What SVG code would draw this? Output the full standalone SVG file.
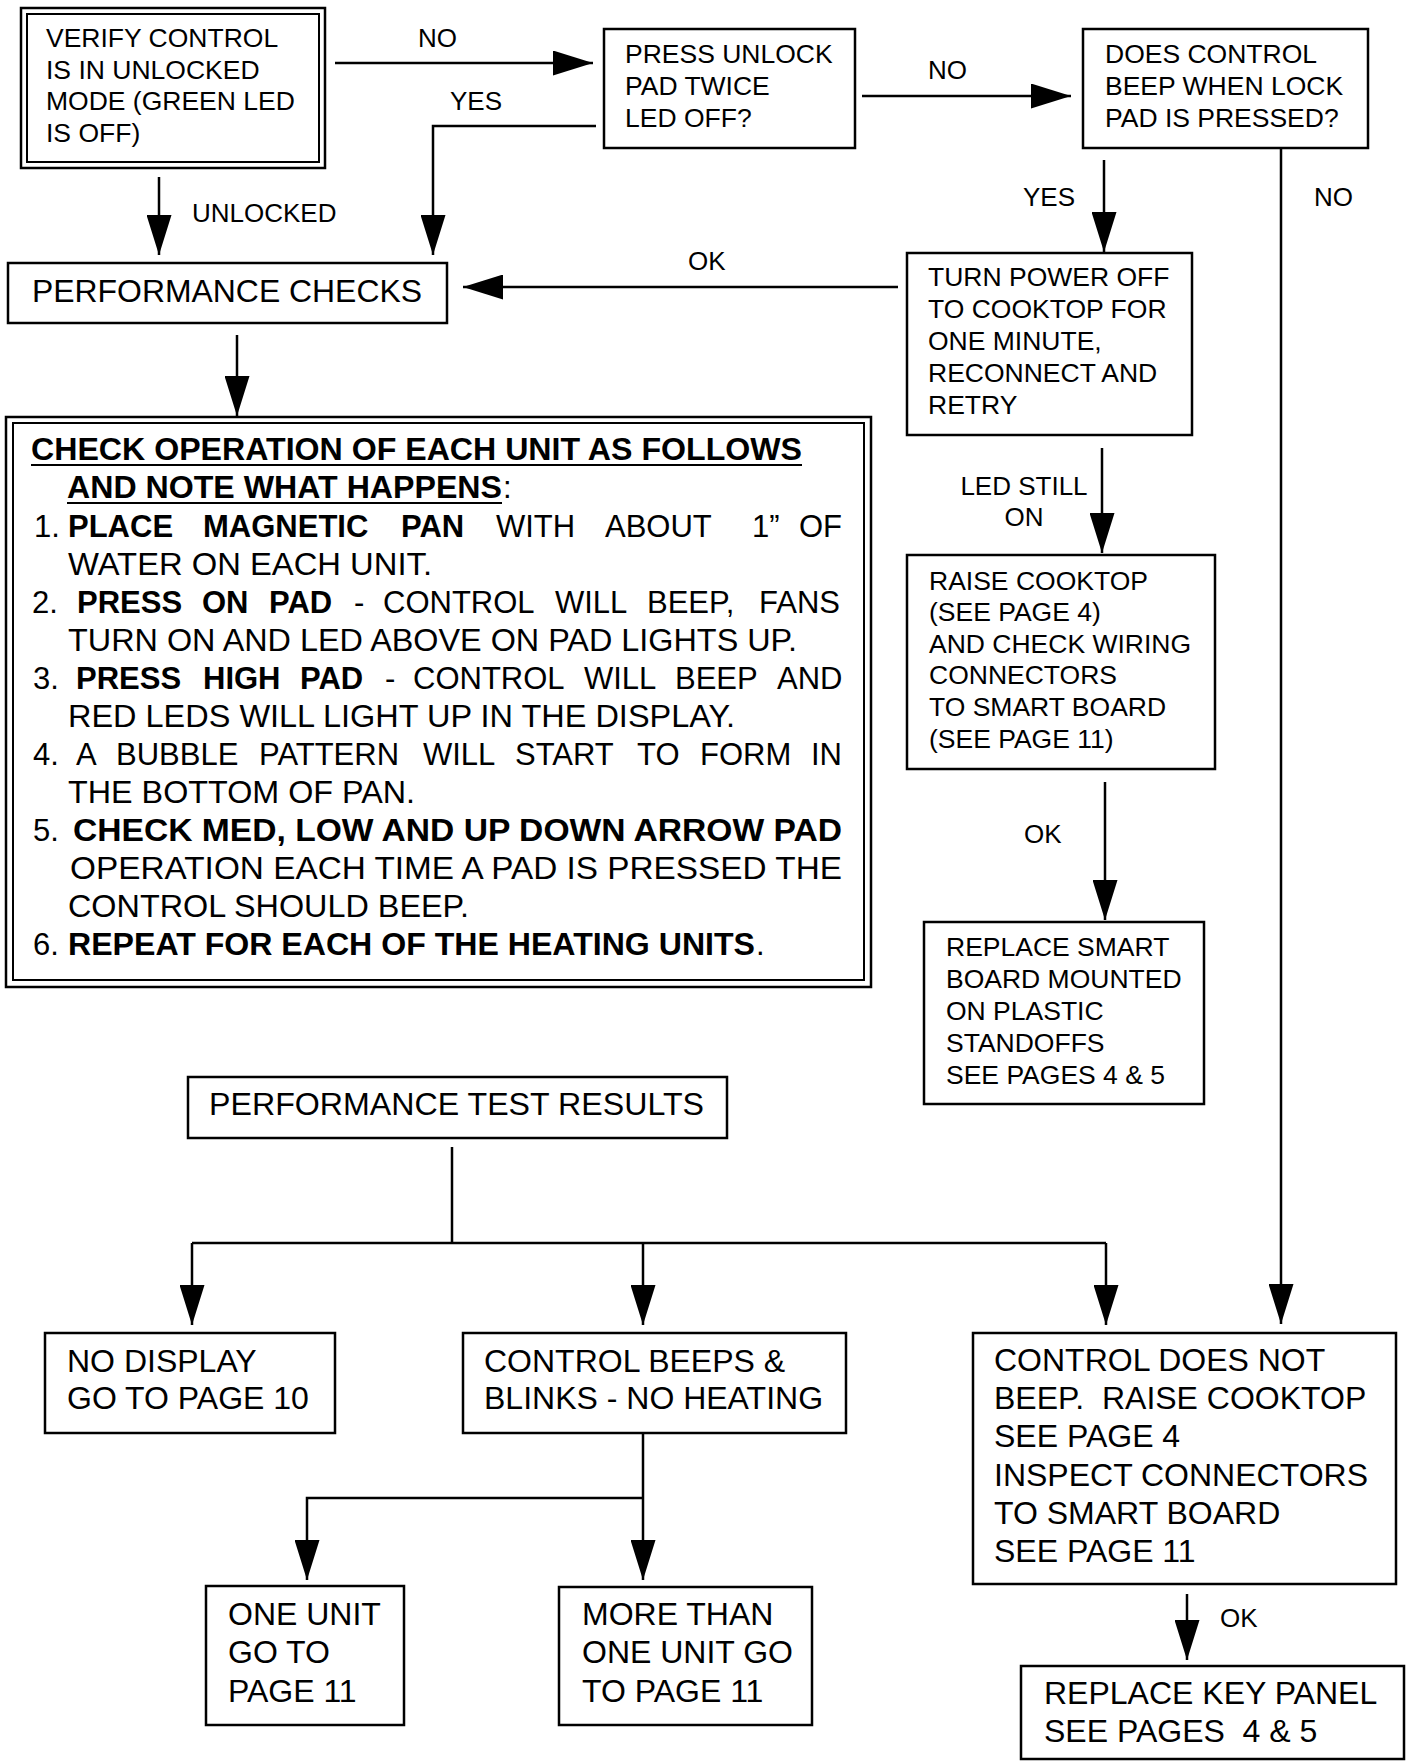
<svg xmlns="http://www.w3.org/2000/svg" width="1408" height="1761" viewBox="0 0 1408 1761">
<defs>
<style>
.box{fill:#fff;stroke:#000;stroke-width:2.5}
.thin{fill:none;stroke:#000;stroke-width:2}
text{font-family:"Liberation Sans",Arial,sans-serif;fill:#000}
.s{font-size:26.5px}
.m{font-size:32px}
.b{font-size:31px}
.bd{font-weight:bold}
.lbl{font-size:26px}
.pre{white-space:pre}
.ln{fill:none;stroke:#000;stroke-width:2.5}
.ul{fill:none;stroke:#000;stroke-width:2.2}
</style>
<marker id="ah" markerUnits="userSpaceOnUse" markerWidth="40" markerHeight="25" refX="40" refY="12.5" orient="auto">
<path d="M0,0 L40,12.5 L0,25 Z" fill="#000"/>
</marker>
</defs>
<rect x="0" y="0" width="1408" height="1761" fill="#fff"/>

<g id="connectors">
<path class="ln" d="M335,63 H593" marker-end="url(#ah)"/>
<path class="ln" d="M596,126 H433 V255" marker-end="url(#ah)"/>
<path class="ln" d="M862,96 H1071" marker-end="url(#ah)"/>
<path class="ln" d="M159,177 V255" marker-end="url(#ah)"/>
<path class="ln" d="M1104,160 V252" marker-end="url(#ah)"/>
<path class="ln" d="M1281,148 V1324" marker-end="url(#ah)"/>
<path class="ln" d="M898,287 H463" marker-end="url(#ah)"/>
<path class="ln" d="M237,335 V416" marker-end="url(#ah)"/>
<path class="ln" d="M1102,448 V553" marker-end="url(#ah)"/>
<path class="ln" d="M1105,782 V920" marker-end="url(#ah)"/>
<path class="ln" d="M452,1147 V1243"/>
<path class="ln" d="M192,1243 H1106"/>
<path class="ln" d="M192,1243 V1325" marker-end="url(#ah)"/>
<path class="ln" d="M643,1243 V1325" marker-end="url(#ah)"/>
<path class="ln" d="M1106,1243 V1325" marker-end="url(#ah)"/>
<path class="ln" d="M643,1433 V1580" marker-end="url(#ah)"/>
<path class="ln" d="M643,1498 H307 V1580" marker-end="url(#ah)"/>
<path class="ln" d="M1187,1594 V1660" marker-end="url(#ah)"/>
<text class="lbl" x="418" y="47">NO</text>
<text class="lbl" x="450" y="110">YES</text>
<text class="lbl" x="928" y="79">NO</text>
<text class="lbl" x="192" y="222">UNLOCKED</text>
<text class="lbl" x="1023" y="206">YES</text>
<text class="lbl" x="1314" y="206">NO</text>
<text class="lbl" x="688" y="270">OK</text>
<text class="lbl" x="1024" y="495" text-anchor="middle">LED STILL</text>
<text class="lbl" x="1024" y="526" text-anchor="middle">ON</text>
<text class="lbl" x="1024" y="843">OK</text>
<text class="lbl" x="1220" y="1627">OK</text>
</g>

<g id="n_verify">
<rect class="box" x="21" y="8" width="304" height="160"/>
<rect class="thin" x="27" y="14" width="292" height="148"/>
<text class="s" x="46" y="47">VERIFY CONTROL</text>
<text class="s" x="46" y="79">IS IN UNLOCKED</text>
<text class="s" x="46" y="110">MODE (GREEN LED</text>
<text class="s" x="46" y="142">IS OFF)</text>
</g>

<g id="n_press">
<rect class="box" x="604" y="29" width="251" height="119"/>
<text class="s" x="625" y="63">PRESS UNLOCK</text>
<text class="s" x="625" y="95">PAD TWICE</text>
<text class="s" x="625" y="127">LED OFF?</text>
</g>

<g id="n_does">
<rect class="box" x="1083" y="29" width="285" height="119"/>
<text class="s" x="1105" y="63">DOES CONTROL</text>
<text class="s" x="1105" y="95">BEEP WHEN LOCK</text>
<text class="s" x="1105" y="127">PAD IS PRESSED?</text>
</g>

<g id="n_perf">
<rect class="box" x="8" y="263" width="439" height="60"/>
<text x="32" y="302" font-size="32" textLength="390" lengthAdjust="spacingAndGlyphs">PERFORMANCE CHECKS</text>
</g>

<g id="n_turn">
<rect class="box" x="907" y="253" width="285" height="182"/>
<text class="s" x="928" y="286">TURN POWER OFF</text>
<text class="s" x="928" y="318">TO COOKTOP FOR</text>
<text class="s" x="928" y="350">ONE MINUTE,</text>
<text class="s" x="928" y="382">RECONNECT AND</text>
<text class="s" x="928" y="414">RETRY</text>
</g>

<g id="n_check">
<rect class="box" x="6" y="417" width="865" height="570"/>
<rect class="thin" x="13" y="423" width="851" height="557"/>
<text class="b bd" x="31" y="460" textLength="771" lengthAdjust="spacingAndGlyphs">CHECK OPERATION OF EACH UNIT AS FOLLOWS</text>
<path class="ul" d="M31,465 H802"/>
<text class="b bd" x="67" y="498" textLength="435" lengthAdjust="spacingAndGlyphs">AND NOTE WHAT HAPPENS</text>
<text class="b" x="503" y="498">:</text>
<path class="ul" d="M67,503 H502"/>
<text class="b" x="34" y="537">1.</text>
<text class="b bd" x="68" y="537">PLACE</text>
<text class="b bd" x="203" y="537">MAGNETIC</text>
<text class="b bd" x="401" y="537">PAN</text>
<text class="b" x="496" y="537">WITH</text>
<text class="b" x="605" y="537">ABOUT</text>
<text class="b" x="752" y="537">1”</text>
<text class="b" x="799" y="537">OF</text>
<text class="b" x="68" y="575" textLength="364" lengthAdjust="spacingAndGlyphs">WATER ON EACH UNIT.</text>
<text class="b" x="32" y="613">2.</text>
<text class="b bd" x="77" y="613">PRESS</text>
<text class="b bd" x="202" y="613">ON</text>
<text class="b bd" x="269" y="613">PAD</text>
<text class="b" x="354" y="613">-</text>
<text class="b" x="383" y="613">CONTROL</text>
<text class="b" x="555" y="613">WILL</text>
<text class="b" x="647" y="613">BEEP,</text>
<text class="b" x="759" y="613">FANS</text>
<text class="b" x="68" y="651" textLength="729" lengthAdjust="spacingAndGlyphs">TURN ON AND LED ABOVE ON PAD LIGHTS UP.</text>
<text class="b" x="33" y="689">3.</text>
<text class="b bd" x="76" y="689">PRESS</text>
<text class="b bd" x="203" y="689">HIGH</text>
<text class="b bd" x="300" y="689">PAD</text>
<text class="b" x="385" y="689">-</text>
<text class="b" x="413" y="689">CONTROL</text>
<text class="b" x="584" y="689">WILL</text>
<text class="b" x="675" y="689">BEEP</text>
<text class="b" x="777" y="689">AND</text>
<text class="b" x="68" y="727" textLength="667" lengthAdjust="spacingAndGlyphs">RED LEDS WILL LIGHT UP IN THE DISPLAY.</text>
<text class="b" x="33" y="765">4.</text>
<text class="b" x="76" y="765">A</text>
<text class="b" x="116" y="765">BUBBLE</text>
<text class="b" x="259" y="765">PATTERN</text>
<text class="b" x="423" y="765">WILL</text>
<text class="b" x="515" y="765">START</text>
<text class="b" x="637" y="765">TO</text>
<text class="b" x="700" y="765">FORM</text>
<text class="b" x="811" y="765">IN</text>
<text class="b" x="68" y="803" textLength="347" lengthAdjust="spacingAndGlyphs">THE BOTTOM OF PAN.</text>
<text class="b" x="33" y="841">5.</text>
<text class="b bd" x="73" y="841" textLength="769" lengthAdjust="spacingAndGlyphs">CHECK MED, LOW AND UP DOWN ARROW PAD</text>
<text class="b" x="70" y="879" textLength="772" lengthAdjust="spacingAndGlyphs">OPERATION EACH TIME A PAD IS PRESSED THE</text>
<text class="b" x="68" y="917" textLength="401" lengthAdjust="spacingAndGlyphs">CONTROL SHOULD BEEP.</text>
<text class="b" x="33" y="955">6.</text>
<text class="b bd" x="68" y="955" textLength="687" lengthAdjust="spacingAndGlyphs">REPEAT FOR EACH OF THE HEATING UNITS</text>
<text class="b" x="756" y="955">.</text>
</g>

<g id="n_raise">
<rect class="box" x="907" y="555" width="308" height="214"/>
<text class="s" x="929" y="590">RAISE COOKTOP</text>
<text class="s" x="929" y="621">(SEE PAGE 4)</text>
<text class="s" x="929" y="653">AND CHECK WIRING</text>
<text class="s" x="929" y="684">CONNECTORS</text>
<text class="s" x="929" y="716">TO SMART BOARD</text>
<text class="s" x="929" y="748">(SEE PAGE 11)</text>
</g>

<g id="n_replace_smart">
<rect class="box" x="924" y="922" width="280" height="182"/>
<text class="s" x="946" y="956">REPLACE SMART</text>
<text class="s" x="946" y="988">BOARD MOUNTED</text>
<text class="s" x="946" y="1020">ON PLASTIC</text>
<text class="s" x="946" y="1052">STANDOFFS</text>
<text class="s" x="946" y="1084">SEE PAGES 4 &amp; 5</text>
</g>

<g id="n_ptr">
<rect class="box" x="188" y="1077" width="539" height="61"/>
<text x="209" y="1115" font-size="31.5" textLength="495" lengthAdjust="spacingAndGlyphs">PERFORMANCE TEST RESULTS</text>
</g>

<g id="n_nodisplay">
<rect class="box" x="45" y="1333" width="290" height="100"/>
<text class="m" x="67" y="1372">NO DISPLAY</text>
<text class="m" x="67" y="1409">GO TO PAGE 10</text>
</g>

<g id="n_beeps">
<rect class="box" x="463" y="1333" width="383" height="100"/>
<text class="m" x="484" y="1372">CONTROL BEEPS &amp;</text>
<text class="m" x="484" y="1409">BLINKS - NO HEATING</text>
</g>

<g id="n_oneunit">
<rect class="box" x="206" y="1586" width="198" height="139"/>
<text class="m" x="228" y="1625">ONE UNIT</text>
<text class="m" x="228" y="1663">GO TO</text>
<text class="m" x="228" y="1702">PAGE 11</text>
</g>

<g id="n_morethan">
<rect class="box" x="559" y="1587" width="253" height="138"/>
<text class="m" x="582" y="1625">MORE THAN</text>
<text class="m" x="582" y="1663">ONE UNIT GO</text>
<text class="m" x="582" y="1702">TO PAGE 11</text>
</g>

<g id="n_doesnot">
<rect class="box" x="973" y="1333" width="423" height="251"/>
<text class="m" x="994" y="1371">CONTROL DOES NOT</text>
<text class="m pre" x="994" y="1409">BEEP.  RAISE COOKTOP</text>
<text class="m" x="994" y="1447">SEE PAGE 4</text>
<text class="m" x="994" y="1486">INSPECT CONNECTORS</text>
<text class="m" x="994" y="1524">TO SMART BOARD</text>
<text class="m" x="994" y="1562">SEE PAGE 11</text>
</g>

<g id="n_keypanel">
<rect class="box" x="1021" y="1666" width="383" height="93"/>
<text class="m" x="1044" y="1704">REPLACE KEY PANEL</text>
<text class="m pre" x="1044" y="1742">SEE PAGES  4 &amp; 5</text>
</g>
</svg>
